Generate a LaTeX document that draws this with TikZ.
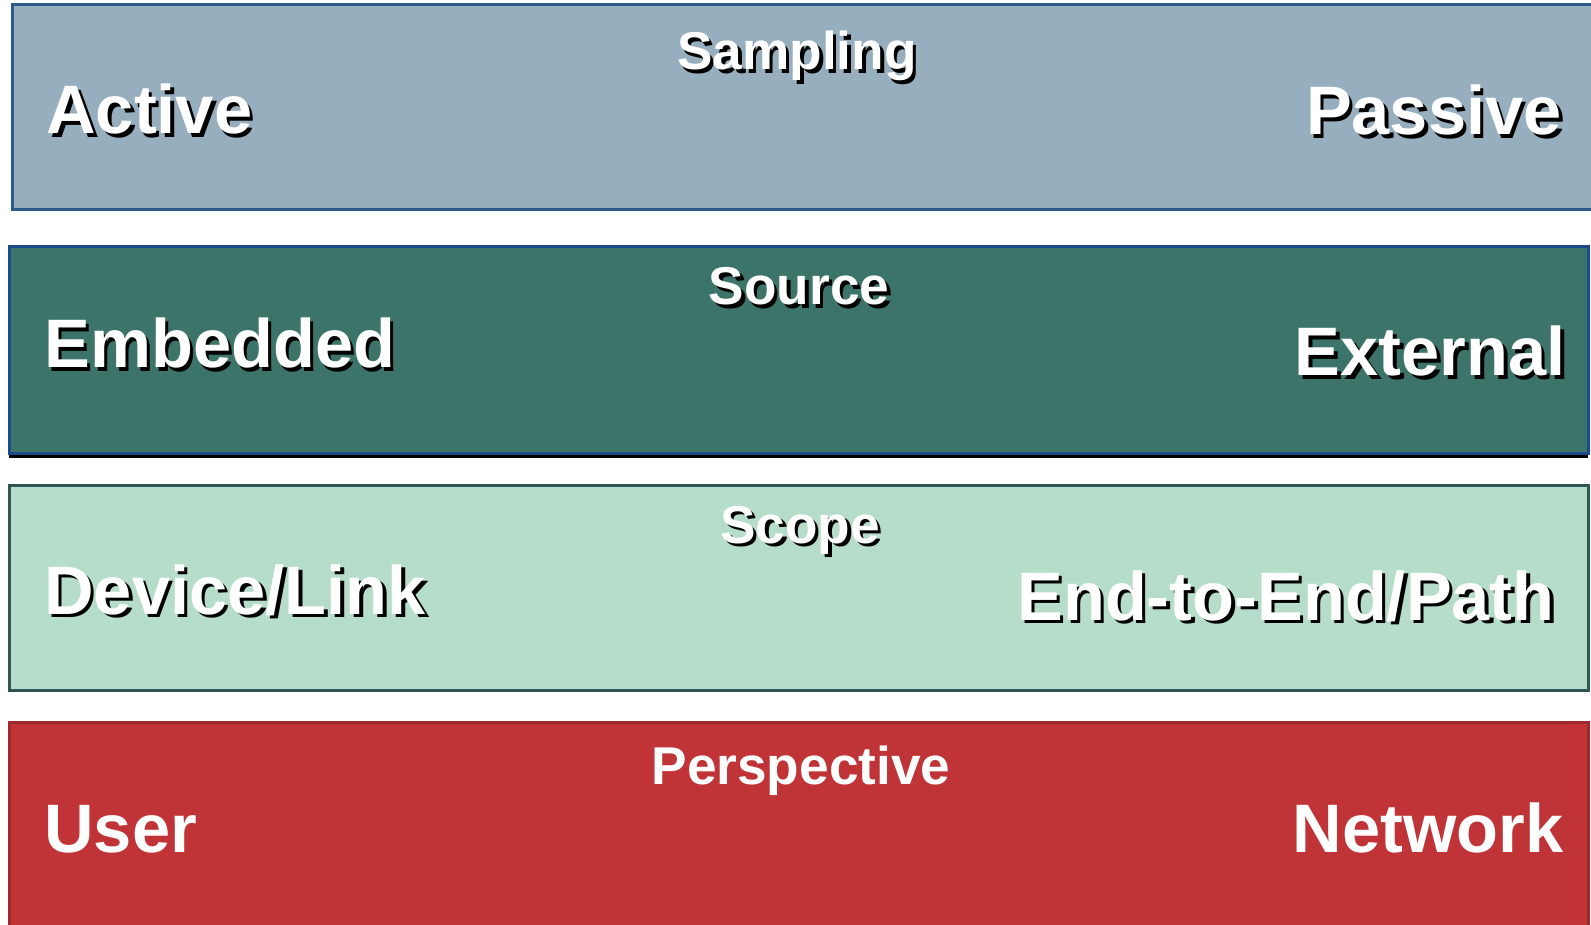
\documentclass[tikz,border=0pt]{standalone}
\usepackage{fontspec}
\setmainfont{Liberation Sans}
\usepackage{tikz}
\usetikzlibrary{positioning}

\definecolor{samplingfill}{HTML}{97AEBE}
\definecolor{samplingline}{HTML}{2E5B88}
\definecolor{sourcefill}{HTML}{3D7469}
\definecolor{sourceline}{HTML}{1F4A8A}
\definecolor{scopefill}{HTML}{B5DDC9}
\definecolor{scopeline}{HTML}{2F5650}
\definecolor{perspfill}{HTML}{C03337}
\definecolor{perspline}{HTML}{9E2A2E}

\newcommand{\shadowed}[1]{\rlap{\kern1.8pt\raisebox{-1.8pt}{\textcolor{black}{#1}}}#1}

\tikzset{
  band/.style={draw, rectangle, anchor=north west, inner sep=0pt, outer sep=0pt, line width=1.5pt},
  title/.style={text=white, inner sep=0pt, anchor=base, font=\bfseries\fontsize{26.6}{31}\selectfont},
  side/.style={text=white, inner sep=0pt, font=\bfseries\fontsize{34.3}{41}\selectfont}
}

\begin{document}
\begin{tikzpicture}[x=0.5pt, y=-0.5pt]
\useasboundingbox (0,0) rectangle (1591,925);
\node[band, fill=samplingfill, draw=samplingline, minimum width=794pt, minimum height=102.5pt] (B1) at (12,5) {};
\node[band, fill=sourcefill, draw=sourceline, minimum width=789.5pt, minimum height=103pt] (B2) at (9,247) {};
\draw[black, line width=1.5pt] ([yshift=-1.5pt]B2.south west) -- ([yshift=-1.5pt]B2.south east);
\node[band, fill=scopefill, draw=scopeline, minimum width=789.5pt, minimum height=102.5pt] (B3) at (9,485) {};
\node[band, fill=perspfill, draw=perspline, minimum width=789.5pt, minimum height=106.5pt] (B4) at (9,722) {};
% sampling
\node[title] (B1T) at (797,70) {\shadowed{Sampling}};
\node[side, anchor=base west] (B1L) at (46,134) {\shadowed{Active}};
\node[side, anchor=base east] (B1R) at (1562,135) {\shadowed{Passive}};
% source
\node[title] (B2T) at (799,305) {\shadowed{Source}};
\node[side, anchor=base west] (B2L) at (44,368) {\shadowed{Embedded}};
\node[side, anchor=base east] (B2R) at (1566,376) {\shadowed{External}};
% scope
\node[title] (B3T) at (800,543) {\shadowed{Scope}};
\node[side, anchor=base west] (B3L) at (44,614) {\shadowed{Device/Link}};
\node[side, anchor=base east] (B3R) at (1555,620) {\shadowed{End-to-End/Path}};
% perspective
\node[title] (B4T) at (801,784) {Perspective};
\node[side, anchor=base west] (B4L) at (44,852) {User};
\node[side, anchor=base east] (B4R) at (1564,852) {Network};
\end{tikzpicture}
\end{document}
